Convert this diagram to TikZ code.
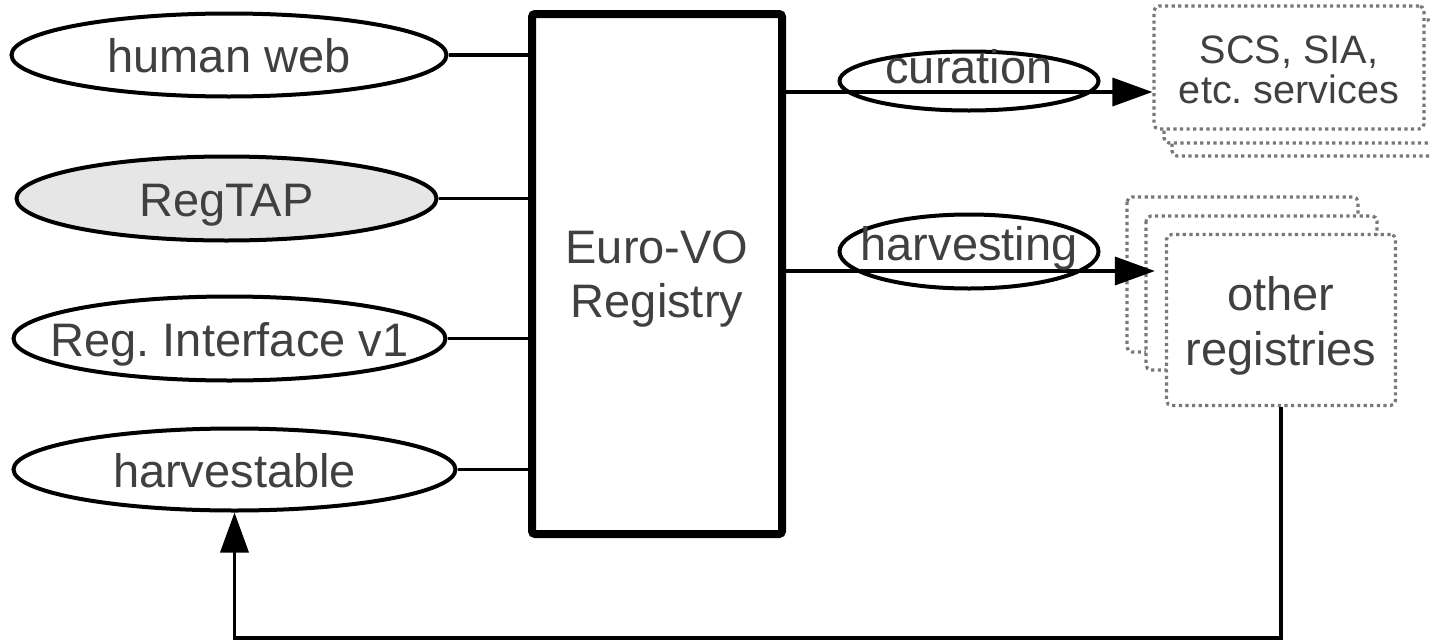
\documentclass[tikz,border=0pt]{standalone}
\usepackage{fontspec}
\setmainfont{Liberation Sans}
\usetikzlibrary{arrows.meta,shapes.geometric}
\definecolor{txt}{RGB}{64,64,64}
\definecolor{dotc}{RGB}{120,120,120}
\definecolor{regfill}{RGB}{230,230,230}
\frenchspacing
\begin{document}
\begin{tikzpicture}[x=0.5pt,y=-0.5pt,
  iface/.style={ellipse, draw, line width=2pt, inner sep=0pt, text=txt,
    font=\fontsize{23.5}{27}\selectfont, text depth=0pt, text height=17.5pt},
  conn/.style={line width=1.75pt},
  arr/.style={line width=1.75pt, -{Triangle[length=20pt,width=14pt]}},
  mainbox/.style={draw, line width=4pt, rounded corners=1.5pt, inner sep=0pt,
    align=center, text=txt, font=\fontsize{23.5}{27}\selectfont},
  dotbox/.style={draw=dotc, line width=1.6pt, dash pattern=on 1.6pt off 1.7pt,
    rounded corners=2.5pt, fill=white},
  dotnode/.style={dotbox, inner sep=0pt, align=center, text=txt}
]
\useasboundingbox (0,0) rectangle (1430,643);

% left interface ellipses
\node[iface, minimum width=217.5pt, minimum height=41.5pt] (hw) at (229,55) {\makebox[0pt]{human web}};
\node[iface, fill=regfill, minimum width=210pt, minimum height=42pt] (tap) at (226.5,198.5) {\makebox[0pt]{RegTAP}};
\node[iface, minimum width=216pt, minimum height=42pt] (ri) at (229.5,338.5) {\makebox[0pt]{Reg. Interface v1}};
\node[iface, minimum width=221pt, minimum height=41pt] (harv) at (234.5,469.5) {\makebox[0pt]{harvestable}};

% main registry box
\node[mainbox, minimum width=125pt, minimum height=260pt, text height=43pt, text depth=0pt] (box) at (657,274) {Euro-VO\\Registry};

% connectors from interfaces
\draw[conn] (hw.east) -- (hw.east -| box.west);
\draw[conn] (tap.east) -- (tap.east -| box.west);
\draw[conn] (ri.east) -- (ri.east -| box.west);
\draw[conn] (harv.east) -- (harv.east -| box.west);

% SCS services stack
\draw[dotbox] (1172,33) rectangle (1442,156);
\draw[dotbox] (1164,20) rectangle (1434,143);
\node[dotnode, minimum width=135pt, minimum height=61.5pt, text height=35.5pt, text depth=0pt,
  font=\fontsize{19.8}{20}\selectfont] (scs) at (1289,67.5) {SCS, SIA,\\etc. services};

% other registries stack
\draw[dotbox] (1127,197) rectangle (1358,352);
\draw[dotbox] (1146,216) rectangle (1377,370);
\node[dotnode, minimum width=114.5pt, minimum height=85.5pt, text height=45pt, text depth=0pt,
  font=\fontsize{23.5}{27.5}\selectfont] (oreg) at (1281,320) {other\\registries};

% arrows to the right
\coordinate (cA) at (0,92);
\coordinate (hA) at (0,271);
\draw[arr] (box.east |- cA) -- (scs.west |- cA);
\draw[arr, shorten >=5pt] (box.east |- hA) -- (oreg.west |- hA);

% labels on arrows
\node[iface, minimum width=129.5pt, minimum height=29.5pt, text height=2pt] (cur) at (969,81) {\makebox[0pt]{curation}};
\node[iface, minimum width=129.5pt, minimum height=37pt, text height=8.5pt] (hvs) at (969,251.5) {\makebox[0pt]{harvesting}};

% feedback
\coordinate (bot) at (0,638);
\draw[arr] (oreg.south) |- (harv.south |- bot) -- (harv.south);
\end{tikzpicture}
\end{document}
